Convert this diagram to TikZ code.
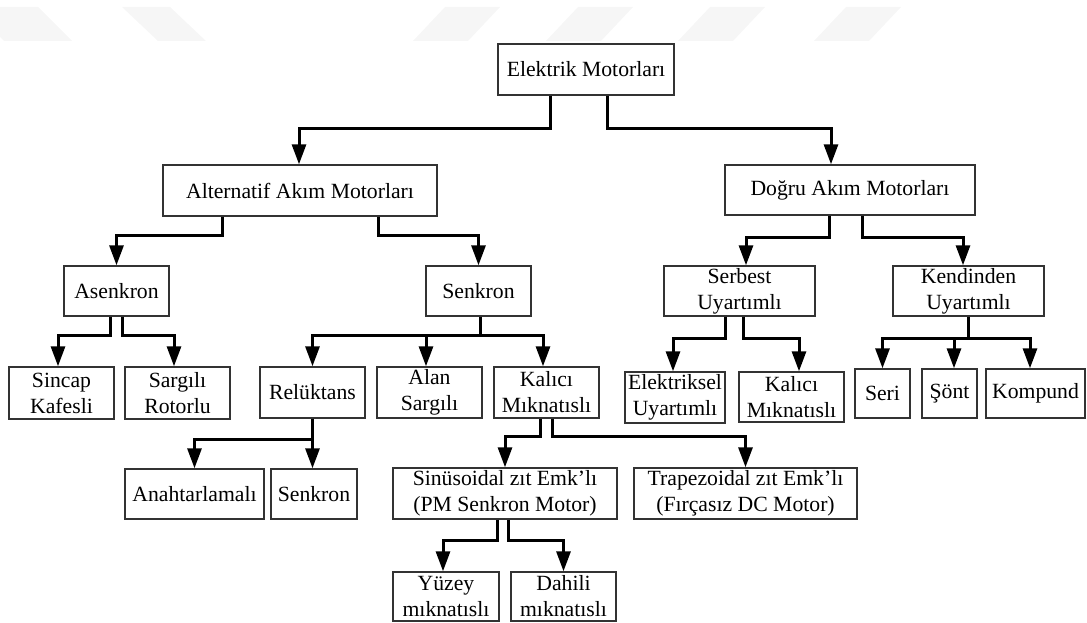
\documentclass[tikz,border=0pt]{standalone}
\usepackage{fontspec}
\setmainfont{Liberation Serif}
\usetikzlibrary{arrows.meta, calc}

\tikzset{
    box/.style={draw=black!80, line width=1.4pt, align=center, inner sep=0pt,
        minimum height=51, font=\fontsize{21.7}{26}\selectfont},
    conn/.style={line width=3pt, -{Triangle[length=20pt, width=14pt]}},
    trunk/.style={line width=3pt}
}

\begin{document}
\begin{tikzpicture}[x=1pt, y=-1pt]
    \useasboundingbox (0,0) rectangle (1087,623);

    % Watermark bands
    \fill[gray!7] (-30,7) -- (38,7) -- (72,41) -- (4,41) -- cycle;
    \fill[gray!7] (122,7) -- (170,7) -- (206,41) -- (158,41) -- cycle;
    \foreach \a in {445, 578, 710, 846}
        \fill[gray!7] (\a,7) -- (\a+55,7) -- (\a+23,41) -- (\a-32,41) -- cycle;

    % Root
    \node[box, minimum width=176] (root) at (586,69.5) {Elektrik Motorları};

    % Level 1
    \node[box, minimum width=274] (ac) at (300,190.5) {Alternatif Akım Motorları};
    \node[box, minimum width=250, minimum height=50] (dc) at (850,190) {Doğru Akım Motorları};

    % Level 2
    \node[box, minimum width=105, minimum height=50] (asenk) at (116.5,291) {Asenkron};
    \node[box, minimum width=105, minimum height=50] (senk) at (478.5,291) {Senkron};
    \node[box, minimum width=151, minimum height=50] (serb) at (739.5,291) {Serbest\\Uyartımlı};
    \node[box, minimum width=151, minimum height=50] (kend) at (968.5,291) {Kendinden\\Uyartımlı};

    % Level 3
    \node[box, minimum width=105, minimum height=52] (sinc) at (61.5,393) {Sincap\\Kafesli};
    \node[box, minimum width=105, minimum height=52] (sarg) at (177.5,393) {Sargılı\\Rotorlu};
    \node[box, minimum width=105] (rel) at (312.5,392.5) {Relüktans};
    \node[box, minimum width=105] (alan) at (429.5,392.5) {Alan\\Sargılı};
    \node[box, minimum width=105] (kal) at (546.5,392.5) {Kalıcı\\Mıknatıslı};
    \node[box, minimum width=100] (elek) at (675,397.5) {Elektriksel\\Uyartımlı};
    \node[box, minimum width=105, minimum height=50] (kal2) at (791.5,397) {Kalıcı\\Mıknatıslı};
    \node[box, minimum width=55, minimum height=49] (seri) at (882.5,393.5) {Seri};
    \node[box, minimum width=55, minimum height=49] (sont) at (949.5,393.5) {Şönt};
    \node[box, minimum width=99, minimum height=49] (komp) at (1035.5,393.5) {Kompund};

    % Level 4
    \node[box, minimum width=139, minimum height=50] (anah) at (194.5,494) {Anahtarlamalı};
    \node[box, minimum width=86, minimum height=50] (senk2) at (314,494) {Senkron};
    \node[box, minimum width=224] (sinus) at (505,493.5) {Sinüsoidal zıt Emk’lı\\(PM Senkron Motor)};
    \node[box, minimum width=223] (trap) at (745.5,493.5) {Trapezoidal zıt Emk’lı\\(Fırçasız DC Motor)};

    % Level 5
    \node[box, minimum width=106, minimum height=49] (yuz) at (446,596.5) {Yüzey\\mıknatıslı};
    \node[box, minimum width=105, minimum height=49] (dah) at (563.5,596.5) {Dahili\\mıknatıslı};

    % Connectors from the root
    \draw[conn] ([xshift=-36]root.south) -- ++(0,33) -| ([xshift=-1]ac.north);
    \draw[conn] ([xshift=21]root.south) -- ++(0,33) -| ([xshift=-19]dc.north);

    % AC branch
    \draw[conn] ([xshift=-78]ac.south) -- ++(0,19) -| (asenk.north);
    \draw[conn] ([xshift=78]ac.south) -- ++(0,19) -| (senk.north);
    \draw[conn] ([xshift=-6]asenk.south) -- ++(0,19) -| ([xshift=-3.5]sinc.north);
    \draw[conn] ([xshift=6]asenk.south) -- ++(0,19) -| ([xshift=-3.5]sarg.north);
    \draw[trunk] ([xshift=1.5]senk.south) -- ++(0,19) coordinate (senkj);
    \draw[conn] (senkj) -| (rel.north);
    \draw[conn] (senkj) -| ([xshift=-3.5]alan.north);
    \draw[conn] (senkj) -| ([xshift=-3.5]kal.north);
    \draw[conn] (rel.south) -- ++(0,21) -| (anah.north);
    \draw[conn] (rel.south) -- (rel.south |- senk2.north);
    \draw[conn] ([xshift=-6]kal.south) -- ++(0,18) -| (sinus.north);
    \draw[conn] ([xshift=6]kal.south) -- ++(0,18) -| (trap.north);
    \draw[conn] ([xshift=-8]sinus.south) -- ++(0,21) -| ([xshift=-3]yuz.north);
    \draw[conn] ([xshift=3]sinus.south) -- ++(0,21) -| (dah.north);

    % DC branch
    \draw[conn] ([xshift=-21]dc.south) -- ++(0,22) -| ([xshift=6.5]serb.north);
    \draw[conn] ([xshift=12]dc.south) -- ++(0,22) -| ([xshift=-5.5]kend.north);
    \draw[conn] ([xshift=-14]serb.south) -- ++(0,22) -| ([xshift=-2]elek.north);
    \draw[conn] ([xshift=4]serb.south) -- ++(0,22) -| ([xshift=7.5]kal2.north);
    \draw[trunk] (kend.south) -- ++(0,22) coordinate (kendj);
    \draw[conn] (kendj) -| (seri.north);
    \draw[conn] (kendj) -| ([xshift=4.5]sont.north);
    \draw[conn] (kendj) -| ([xshift=-5.5]komp.north);
\end{tikzpicture}
\end{document}
